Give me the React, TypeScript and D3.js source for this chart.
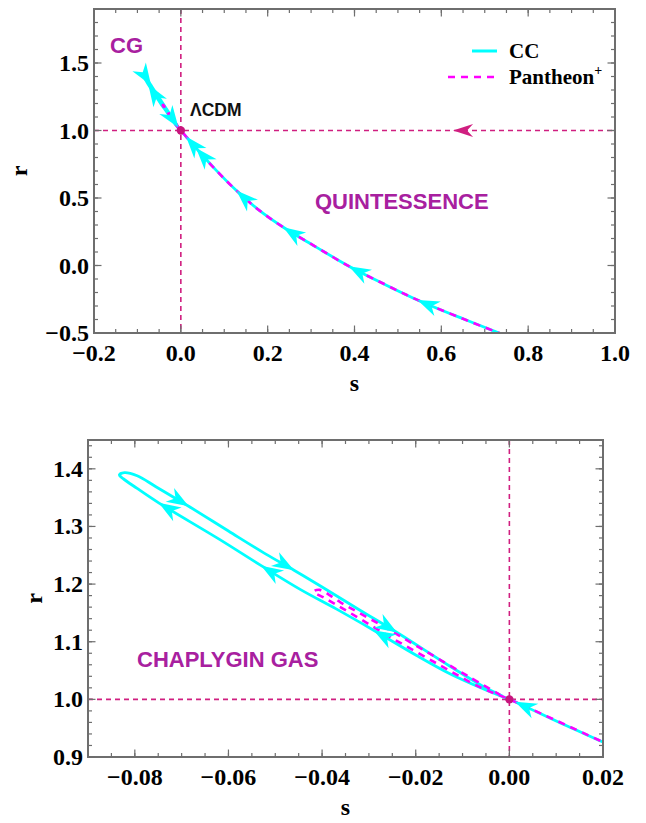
import React from 'react'
import * as d3 from 'd3'

// CC trajectory in the (s, r) plane, listed in the order of travel
const ccS = [0.745, 0.65, 0.545, 0.47, 0.387, 0.31, 0.236, 0.18, 0.128, 0.08, 0.035, 0.02, 0.012, 0.0012, 0,
  -0.0055, -0.0126, -0.02, -0.029, -0.037, -0.0445, -0.053, -0.062, -0.0749, -0.0795, -0.0825, -0.0833,
  -0.0822, -0.0795, -0.0755, -0.0685, -0.06, -0.052, -0.046, -0.04, -0.032, -0.024, -0.0126, -0.0055, -0.0015]
const ccR = [-0.515, -0.395, -0.255, -0.14, -0.005, 0.14, 0.283, 0.41, 0.555, 0.71, 0.87, 0.926, 0.955, 0.996, 1,
  1.018, 1.044, 1.077, 1.12, 1.157, 1.19, 1.232, 1.278, 1.341, 1.366, 1.383, 1.3895,
  1.3935, 1.388, 1.369, 1.335, 1.292, 1.252, 1.224, 1.195, 1.155, 1.116, 1.057, 1.022, 1.006]

// Pantheon+ trajectory
const panS = [0.745, 0.65, 0.545, 0.47, 0.387, 0.31, 0.236, 0.18, 0.128, 0.08, 0.035, 0.02, 0,
  -0.006, -0.015, -0.025, -0.034, -0.0395, -0.0418, -0.0405, -0.036, -0.027, -0.018, -0.009, -0.002]
const panR = [-0.515, -0.395, -0.255, -0.14, -0.005, 0.14, 0.283, 0.41, 0.555, 0.71, 0.87, 0.926, 1,
  1.02, 1.06, 1.106, 1.15, 1.176, 1.187, 1.19, 1.168, 1.127, 1.084, 1.041, 1.008]

// where the CC arrowheads sit (indices into ccS / ccR)
const topArrowIdx = [2, 4, 6, 8, 10, 12, 23, 30, 38]
const bottomArrowIdx = [13, 18, 21, 23, 30, 33, 36]

// r = 1 separatrix, travelled toward the fixed point
const sepS = [1.0, 0.0]
const sepArrowS = 0.627
const fixedS = 0
const fixedR = 1

const topXTicks = [-0.2, 0, 0.2, 0.4, 0.6, 0.8, 1.0]
const topXLabels = ['\u22120.2', '0.0', '0.2', '0.4', '0.6', '0.8', '1.0']
const topYTicks = [-0.5, 0, 0.5, 1.0, 1.5]
const topYLabels = ['\u22120.5', '0.0', '0.5', '1.0', '1.5']
const botXTicks = [-0.08, -0.06, -0.04, -0.02, 0, 0.02]
const botXLabels = ['\u22120.08', '\u22120.06', '\u22120.04', '\u22120.02', '0.00', '0.02']
const botYTicks = [0.9, 1.0, 1.1, 1.2, 1.3, 1.4]
const botYLabels = ['0.9', '1.0', '1.1', '1.2', '1.3', '1.4']

const CYAN = '#00ffff'
const MAGENTA = '#ff00ff'
const REF = '#d01f80'
const PURPLE = '#a8209f'
const FRAME = '#6e6e6e'
const serif = '"Liberation Serif", "Times New Roman", serif'
const sans = '"Liberation Sans", Arial, sans-serif'

const minors = (a: number, b: number, step: number) =>
  d3.range(Math.round((b - a) / step) + 1).map(i => a + i * step)

function Arrow({ x, y, angle, color, len = 22, half = 8 }: any) {
  return (
    <path d={`M0,0L${-len},${-half}L${-len * 0.7},0L${-len},${half}Z`}
      transform={`translate(${x},${y}) rotate(${angle})`} fill={color} />
  )
}

function Panel(props: any) {
  const { id, x, y, xMajor, xLabels, xMinor, yMajor, yLabels, yMinor, arrows, rX, sepArrow } = props
  const [x0, x1] = x.range()
  const [yb, yt] = y.range()
  const line = d3.line<number>().curve(d3.curveCatmullRom.alpha(0.5))
  const ccPts = ccS.map((s, i) => [x(s), y(ccR[i])] as [number, number])
  const panPts = panS.map((s, i) => [x(s), y(panR[i])] as [number, number])
  const arrowEls = arrows.map((i: number) => {
    const a = ccPts[i - 1], b = ccPts[i + 1]
    const ang = Math.atan2(b[1] - a[1], b[0] - a[0]) * 180 / Math.PI
    return <Arrow key={i} x={ccPts[i][0]} y={ccPts[i][1]} angle={ang} color={CYAN} />
  })
  let sepEl = null
  if (sepArrow) {
    const ang = Math.atan2(0, x(sepS[1]) - x(sepS[0])) * 180 / Math.PI
    sepEl = <Arrow x={x(sepArrow)} y={y(fixedR)} angle={ang} color={REF} len={20} half={6.5} />
  }
  const tick = (k: string, x1_: number, y1_: number, x2_: number, y2_: number) =>
    <line key={k} x1={x1_} y1={y1_} x2={x2_} y2={y2_} stroke={FRAME} strokeWidth={1.2} />
  const ticks: any[] = []
  xMinor.forEach((v: number, i: number) => {
    ticks.push(tick('xb' + i, x(v), yb, x(v), yb - 4), tick('xt' + i, x(v), yt, x(v), yt + 4))
  })
  xMajor.forEach((v: number, i: number) => {
    ticks.push(tick('Xb' + i, x(v), yb, x(v), yb - 7.5), tick('Xt' + i, x(v), yt, x(v), yt + 7.5))
  })
  yMinor.forEach((v: number, i: number) => {
    ticks.push(tick('yl' + i, x0, y(v), x0 + 4, y(v)), tick('yr' + i, x1, y(v), x1 - 4, y(v)))
  })
  yMajor.forEach((v: number, i: number) => {
    ticks.push(tick('Yl' + i, x0, y(v), x0 + 7.5, y(v)), tick('Yr' + i, x1, y(v), x1 - 7.5, y(v)))
  })
  return (
    <g>
      <defs>
        <clipPath id={id}><rect x={x0} y={yt} width={x1 - x0} height={yb - yt} /></clipPath>
      </defs>
      <g clipPath={`url(#${id})`}>
        <line x1={x0} x2={x1} y1={y(fixedR)} y2={y(fixedR)} stroke={REF} strokeWidth={1.6} strokeDasharray="5,4" />
        <line x1={x(fixedS)} x2={x(fixedS)} y1={yt} y2={yb} stroke={REF} strokeWidth={1.6} strokeDasharray="5,4" />
        <path d={line(ccPts as any) || ''} fill="none" stroke={CYAN} strokeWidth={2.8} strokeLinejoin="round" />
        <path d={line(panPts as any) || ''} fill="none" stroke={MAGENTA} strokeWidth={2.6} strokeDasharray="7,6" />
        {arrowEls}
        {sepEl}
        <circle cx={x(fixedS)} cy={y(fixedR)} r={4.2} fill="#c8157d" />
      </g>
      <rect x={x0} y={yt} width={x1 - x0} height={yb - yt} fill="none" stroke={FRAME} strokeWidth={2} />
      {ticks}
      <g fontFamily={serif} fontWeight="bold" fontSize={24} fill="#000">
        {xMajor.map((v: number, i: number) => (
          <text key={'xl' + i} x={x(v)} y={yb + 28} textAnchor="middle">{xLabels[i]}</text>
        ))}
        {yMajor.map((v: number, i: number) => (
          <text key={'yl' + i} x={x0 - 5} y={y(v) + 8} textAnchor="end">{yLabels[i]}</text>
        ))}
        <text x={(x0 + x1) / 2} y={yb + 58} textAnchor="middle">s</text>
        <text transform={`translate(${rX},${(yb + yt) / 2}) rotate(-90)`} textAnchor="middle" dy="0.35em">r</text>
      </g>
      {props.children}
    </g>
  )
}

export default function App() {
  const xTop = d3.scaleLinear().domain([-0.2, 1.0]).range([94, 615])
  const yTop = d3.scaleLinear().domain([-0.5, 1.9]).range([333, 9])
  const xBot = d3.scaleLinear().domain([-0.09, 0.02]).range([88, 603])
  const yBot = d3.scaleLinear().domain([0.9, 1.45]).range([757, 440])
  return (
    <svg width={646} height={823} style={{ position: 'absolute', left: 0, top: 0, background: '#fff' }}>
      <Panel id="clipTop" x={xTop} y={yTop} xMajor={topXTicks} xLabels={topXLabels} xMinor={minors(-0.2, 1.0, 0.05)}
        yMajor={topYTicks} yLabels={topYLabels} yMinor={minors(-0.5, 1.9, 0.1)} arrows={topArrowIdx} rX={19} sepArrow={sepArrowS}>
        <g fontFamily={sans} fontWeight="bold" fontSize={22} fill={PURPLE}>
          <text x={110} y={53}>CG</text>
          <text x={315} y={209}>QUINTESSENCE</text>
        </g>
        <text x={190} y={116} fontFamily={sans} fontWeight="bold" fontSize={17.5} fill="#111">{'\u039BCDM'}</text>
        <g fontFamily={serif} fontWeight="bold" fontSize={21} fill="#000">
          <line x1={472} x2={497} y1={51} y2={51} stroke={CYAN} strokeWidth={3} />
          <text x={509} y={58}>CC</text>
          <line x1={448} x2={497} y1={77} y2={77} stroke={MAGENTA} strokeWidth={2.6} strokeDasharray="7,6" />
          <text x={509} y={84}>Pantheon<tspan fontSize={14} dy={-9}>+</tspan></text>
        </g>
      </Panel>
      <Panel id="clipBot" x={xBot} y={yBot} xMajor={botXTicks} xLabels={botXLabels} xMinor={minors(-0.09, 0.02, 0.005)}
        yMajor={botYTicks} yLabels={botYLabels} yMinor={minors(0.9, 1.44, 0.02)} arrows={bottomArrowIdx} rX={34}>
        <text x={137} y={667} fontFamily={sans} fontWeight="bold" fontSize={22} fill={PURPLE}>CHAPLYGIN GAS</text>
      </Panel>
    </svg>
  )
}
